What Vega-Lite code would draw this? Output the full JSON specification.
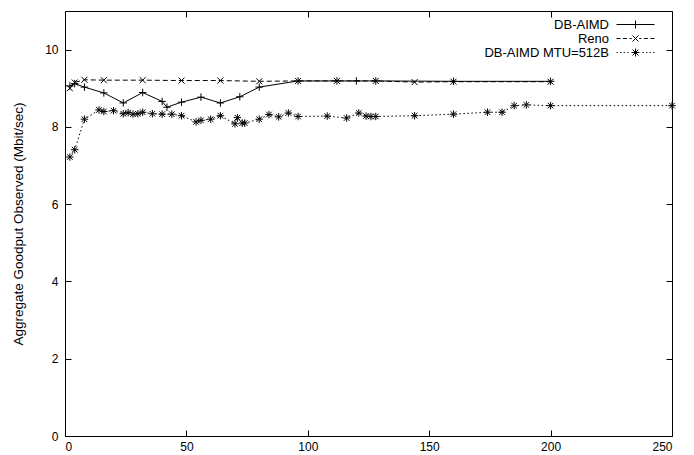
{
  "$schema": "https://vega.github.io/schema/vega-lite/v6.json",
  "width": 607,
  "height": 425,
  "autosize": {"type": "none"},
  "padding": {"left": 65, "top": 11, "right": 22, "bottom": 19},
  "config": {
    "font": "Liberation Sans",
    "view": {"stroke": "#000", "strokeWidth": 1},
    "axis": {
      "domain": false, "grid": false, "ticks": true, "tickSize": -6, "tickColor": "#000", "tickWidth": 1,
      "labelColor": "#000", "labelFont": "Liberation Sans", "labelFontSize": 12,
      "titleFont": "Liberation Sans", "titleFontWeight": "normal", "titleColor": "#000", "titleFontSize": 13.5
    }
  },
  "data": {"values": [
    {"series": "DB-AIMD", "x": 2, "y": 9.06},
    {"series": "DB-AIMD", "x": 4, "y": 9.12},
    {"series": "DB-AIMD", "x": 8, "y": 9.03},
    {"series": "DB-AIMD", "x": 16, "y": 8.88},
    {"series": "DB-AIMD", "x": 24, "y": 8.62},
    {"series": "DB-AIMD", "x": 32, "y": 8.89},
    {"series": "DB-AIMD", "x": 40, "y": 8.66},
    {"series": "DB-AIMD", "x": 42, "y": 8.51},
    {"series": "DB-AIMD", "x": 48, "y": 8.64},
    {"series": "DB-AIMD", "x": 56, "y": 8.77},
    {"series": "DB-AIMD", "x": 64, "y": 8.62},
    {"series": "DB-AIMD", "x": 72, "y": 8.78},
    {"series": "DB-AIMD", "x": 80, "y": 9.03},
    {"series": "DB-AIMD", "x": 96, "y": 9.19},
    {"series": "DB-AIMD", "x": 112, "y": 9.19},
    {"series": "DB-AIMD", "x": 120, "y": 9.19},
    {"series": "DB-AIMD", "x": 128, "y": 9.19},
    {"series": "DB-AIMD", "x": 160, "y": 9.18},
    {"series": "DB-AIMD", "x": 200, "y": 9.18},
    {"series": "Reno", "x": 2, "y": 9.0},
    {"series": "Reno", "x": 4, "y": 9.15},
    {"series": "Reno", "x": 8, "y": 9.22},
    {"series": "Reno", "x": 16, "y": 9.21},
    {"series": "Reno", "x": 32, "y": 9.21},
    {"series": "Reno", "x": 48, "y": 9.2},
    {"series": "Reno", "x": 64, "y": 9.2},
    {"series": "Reno", "x": 80, "y": 9.18},
    {"series": "Reno", "x": 96, "y": 9.19},
    {"series": "Reno", "x": 112, "y": 9.19},
    {"series": "Reno", "x": 128, "y": 9.19},
    {"series": "Reno", "x": 144, "y": 9.16},
    {"series": "Reno", "x": 160, "y": 9.17},
    {"series": "Reno", "x": 200, "y": 9.17},
    {"series": "DB-AIMD MTU=512B", "x": 2, "y": 7.22},
    {"series": "DB-AIMD MTU=512B", "x": 4, "y": 7.41},
    {"series": "DB-AIMD MTU=512B", "x": 8, "y": 8.2},
    {"series": "DB-AIMD MTU=512B", "x": 14, "y": 8.44},
    {"series": "DB-AIMD MTU=512B", "x": 16, "y": 8.4},
    {"series": "DB-AIMD MTU=512B", "x": 20, "y": 8.42},
    {"series": "DB-AIMD MTU=512B", "x": 24, "y": 8.34},
    {"series": "DB-AIMD MTU=512B", "x": 26, "y": 8.37},
    {"series": "DB-AIMD MTU=512B", "x": 28, "y": 8.33},
    {"series": "DB-AIMD MTU=512B", "x": 30, "y": 8.34},
    {"series": "DB-AIMD MTU=512B", "x": 32, "y": 8.38},
    {"series": "DB-AIMD MTU=512B", "x": 36, "y": 8.34},
    {"series": "DB-AIMD MTU=512B", "x": 40, "y": 8.33},
    {"series": "DB-AIMD MTU=512B", "x": 44, "y": 8.33},
    {"series": "DB-AIMD MTU=512B", "x": 48, "y": 8.29},
    {"series": "DB-AIMD MTU=512B", "x": 54, "y": 8.13},
    {"series": "DB-AIMD MTU=512B", "x": 56, "y": 8.17},
    {"series": "DB-AIMD MTU=512B", "x": 60, "y": 8.2},
    {"series": "DB-AIMD MTU=512B", "x": 64, "y": 8.29},
    {"series": "DB-AIMD MTU=512B", "x": 70, "y": 8.08},
    {"series": "DB-AIMD MTU=512B", "x": 71, "y": 8.24},
    {"series": "DB-AIMD MTU=512B", "x": 73, "y": 8.1},
    {"series": "DB-AIMD MTU=512B", "x": 74, "y": 8.1},
    {"series": "DB-AIMD MTU=512B", "x": 80, "y": 8.2},
    {"series": "DB-AIMD MTU=512B", "x": 84, "y": 8.32},
    {"series": "DB-AIMD MTU=512B", "x": 88, "y": 8.26},
    {"series": "DB-AIMD MTU=512B", "x": 92, "y": 8.36},
    {"series": "DB-AIMD MTU=512B", "x": 96, "y": 8.27},
    {"series": "DB-AIMD MTU=512B", "x": 108, "y": 8.28},
    {"series": "DB-AIMD MTU=512B", "x": 116, "y": 8.23},
    {"series": "DB-AIMD MTU=512B", "x": 121, "y": 8.36},
    {"series": "DB-AIMD MTU=512B", "x": 124, "y": 8.28},
    {"series": "DB-AIMD MTU=512B", "x": 126, "y": 8.27},
    {"series": "DB-AIMD MTU=512B", "x": 128, "y": 8.27},
    {"series": "DB-AIMD MTU=512B", "x": 144, "y": 8.29},
    {"series": "DB-AIMD MTU=512B", "x": 160, "y": 8.33},
    {"series": "DB-AIMD MTU=512B", "x": 174, "y": 8.38},
    {"series": "DB-AIMD MTU=512B", "x": 180, "y": 8.38},
    {"series": "DB-AIMD MTU=512B", "x": 185, "y": 8.55},
    {"series": "DB-AIMD MTU=512B", "x": 190, "y": 8.57},
    {"series": "DB-AIMD MTU=512B", "x": 200, "y": 8.55},
    {"series": "DB-AIMD MTU=512B", "x": 250, "y": 8.55}
  ]},
  "layer": [
    {
      "transform": [{"filter": "datum.series === 'DB-AIMD'"}],
      "mark": {"type": "line", "stroke": "#000", "strokeWidth": 1},
      "encoding": {
        "x": {"field": "x", "type": "quantitative", "scale": {"domain": [0, 250], "nice": false},
              "axis": {"values": [0, 50, 100, 150, 200, 250], "title": null, "labelPadding": 11}},
        "y": {"field": "y", "type": "quantitative", "scale": {"domain": [0, 11], "nice": false},
              "axis": {"values": [0, 2, 4, 6, 8, 10], "title": "Aggregate Goodput Observed (Mbit/sec)", "labelPadding": 13, "titlePadding": 19}},
        "order": {"field": "x", "type": "quantitative"}
      }
    },
    {
      "transform": [{"filter": "datum.series === 'Reno'"}],
      "mark": {"type": "line", "stroke": "#000", "strokeWidth": 1, "strokeDash": [5, 3]},
      "encoding": {
        "x": {"field": "x", "type": "quantitative", "axis": null},
        "y": {"field": "y", "type": "quantitative", "axis": null},
        "order": {"field": "x", "type": "quantitative"}
      }
    },
    {
      "transform": [{"filter": "datum.series === 'DB-AIMD MTU=512B'"}],
      "mark": {"type": "line", "stroke": "#000", "strokeWidth": 1, "strokeDash": [1.5, 2.5]},
      "encoding": {
        "x": {"field": "x", "type": "quantitative", "axis": null},
        "y": {"field": "y", "type": "quantitative", "axis": null},
        "order": {"field": "x", "type": "quantitative"}
      }
    },
    {
      "mark": {"type": "point", "filled": false, "stroke": "#000", "strokeWidth": 1, "size": 56, "opacity": 1},
      "encoding": {
        "x": {"field": "x", "type": "quantitative",
              "axis": {"orient": "top", "values": [0, 50, 100, 150, 200, 250], "labels": false, "title": null}},
        "y": {"field": "y", "type": "quantitative",
              "axis": {"orient": "right", "values": [0, 2, 4, 6, 8, 10], "labels": false, "title": null}},
        "shape": {"field": "series", "type": "nominal",
              "scale": {"domain": ["DB-AIMD", "Reno", "DB-AIMD MTU=512B"],
                        "range": ["M-1,0H1M0,-1V1", "M-0.8,-0.8L0.8,0.8M-0.8,0.8L0.8,-0.8", "M-1,0H1M0,-1V1M-0.75,-0.75L0.75,0.75M-0.75,0.75L0.75,-0.75"]},
              "legend": null}
      }
    },
    {
      "transform": [{"filter": "datum.x < 0"}],
      "mark": {"type": "point", "filled": false, "stroke": "#000", "strokeWidth": 1, "size": 64, "opacity": 1},
      "encoding": {
        "x": {"field": "x", "type": "quantitative", "axis": null},
        "y": {"field": "y", "type": "quantitative", "axis": null},
        "shape": {"field": "series", "type": "nominal",
              "scale": {"domain": ["DB-AIMD", "Reno", "DB-AIMD MTU=512B"],
                        "range": [
                          "M-4.75,0H4.75M0,-1V1",
                          "M-4.75,0H-3.75M-3.1,0H-2.1M-1.45,0H-0.95M-0.75,-0.75L0.75,0.75M-0.75,0.75L0.75,-0.75M0.95,0H1.45M2.1,0H3.1M3.75,0H4.75",
                          "M-4.75,0H-4.45M-3.85,0H-3.55M-2.95,0H-2.65M-2.05,0H-1.75M-1,0H1M0,-1V1M-0.75,-0.75L0.75,0.75M-0.75,0.75L0.75,-0.75M1.75,0H2.05M2.65,0H2.95M3.55,0H3.85M4.45,0H4.75"
                        ]},
              "legend": {
                "title": null, "orient": "none", "legendX": 564, "legendY": 7, "padding": 0,
                "direction": "vertical", "symbolSize": 64, "symbolStrokeWidth": 1, "symbolStrokeColor": "#000",
                "symbolFillColor": "transparent", "symbolOpacity": 1,
                "labelAlign": "right", "labelOffset": -33, "labelFontSize": 13, "labelFont": "Liberation Sans",
                "labelColor": "#000", "rowPadding": -9, "labelLimit": 300,
                "encode": {"symbols": {
                  "stroke": {"value": "#000"},
                  "fill": {"value": "transparent"}
                }}
              }}
      }
    }
  ],
  "resolve": {
    "axis": {"x": "independent", "y": "independent"},
    "scale": {"shape": "independent"},
    "legend": {"shape": "independent"}
  }
}
